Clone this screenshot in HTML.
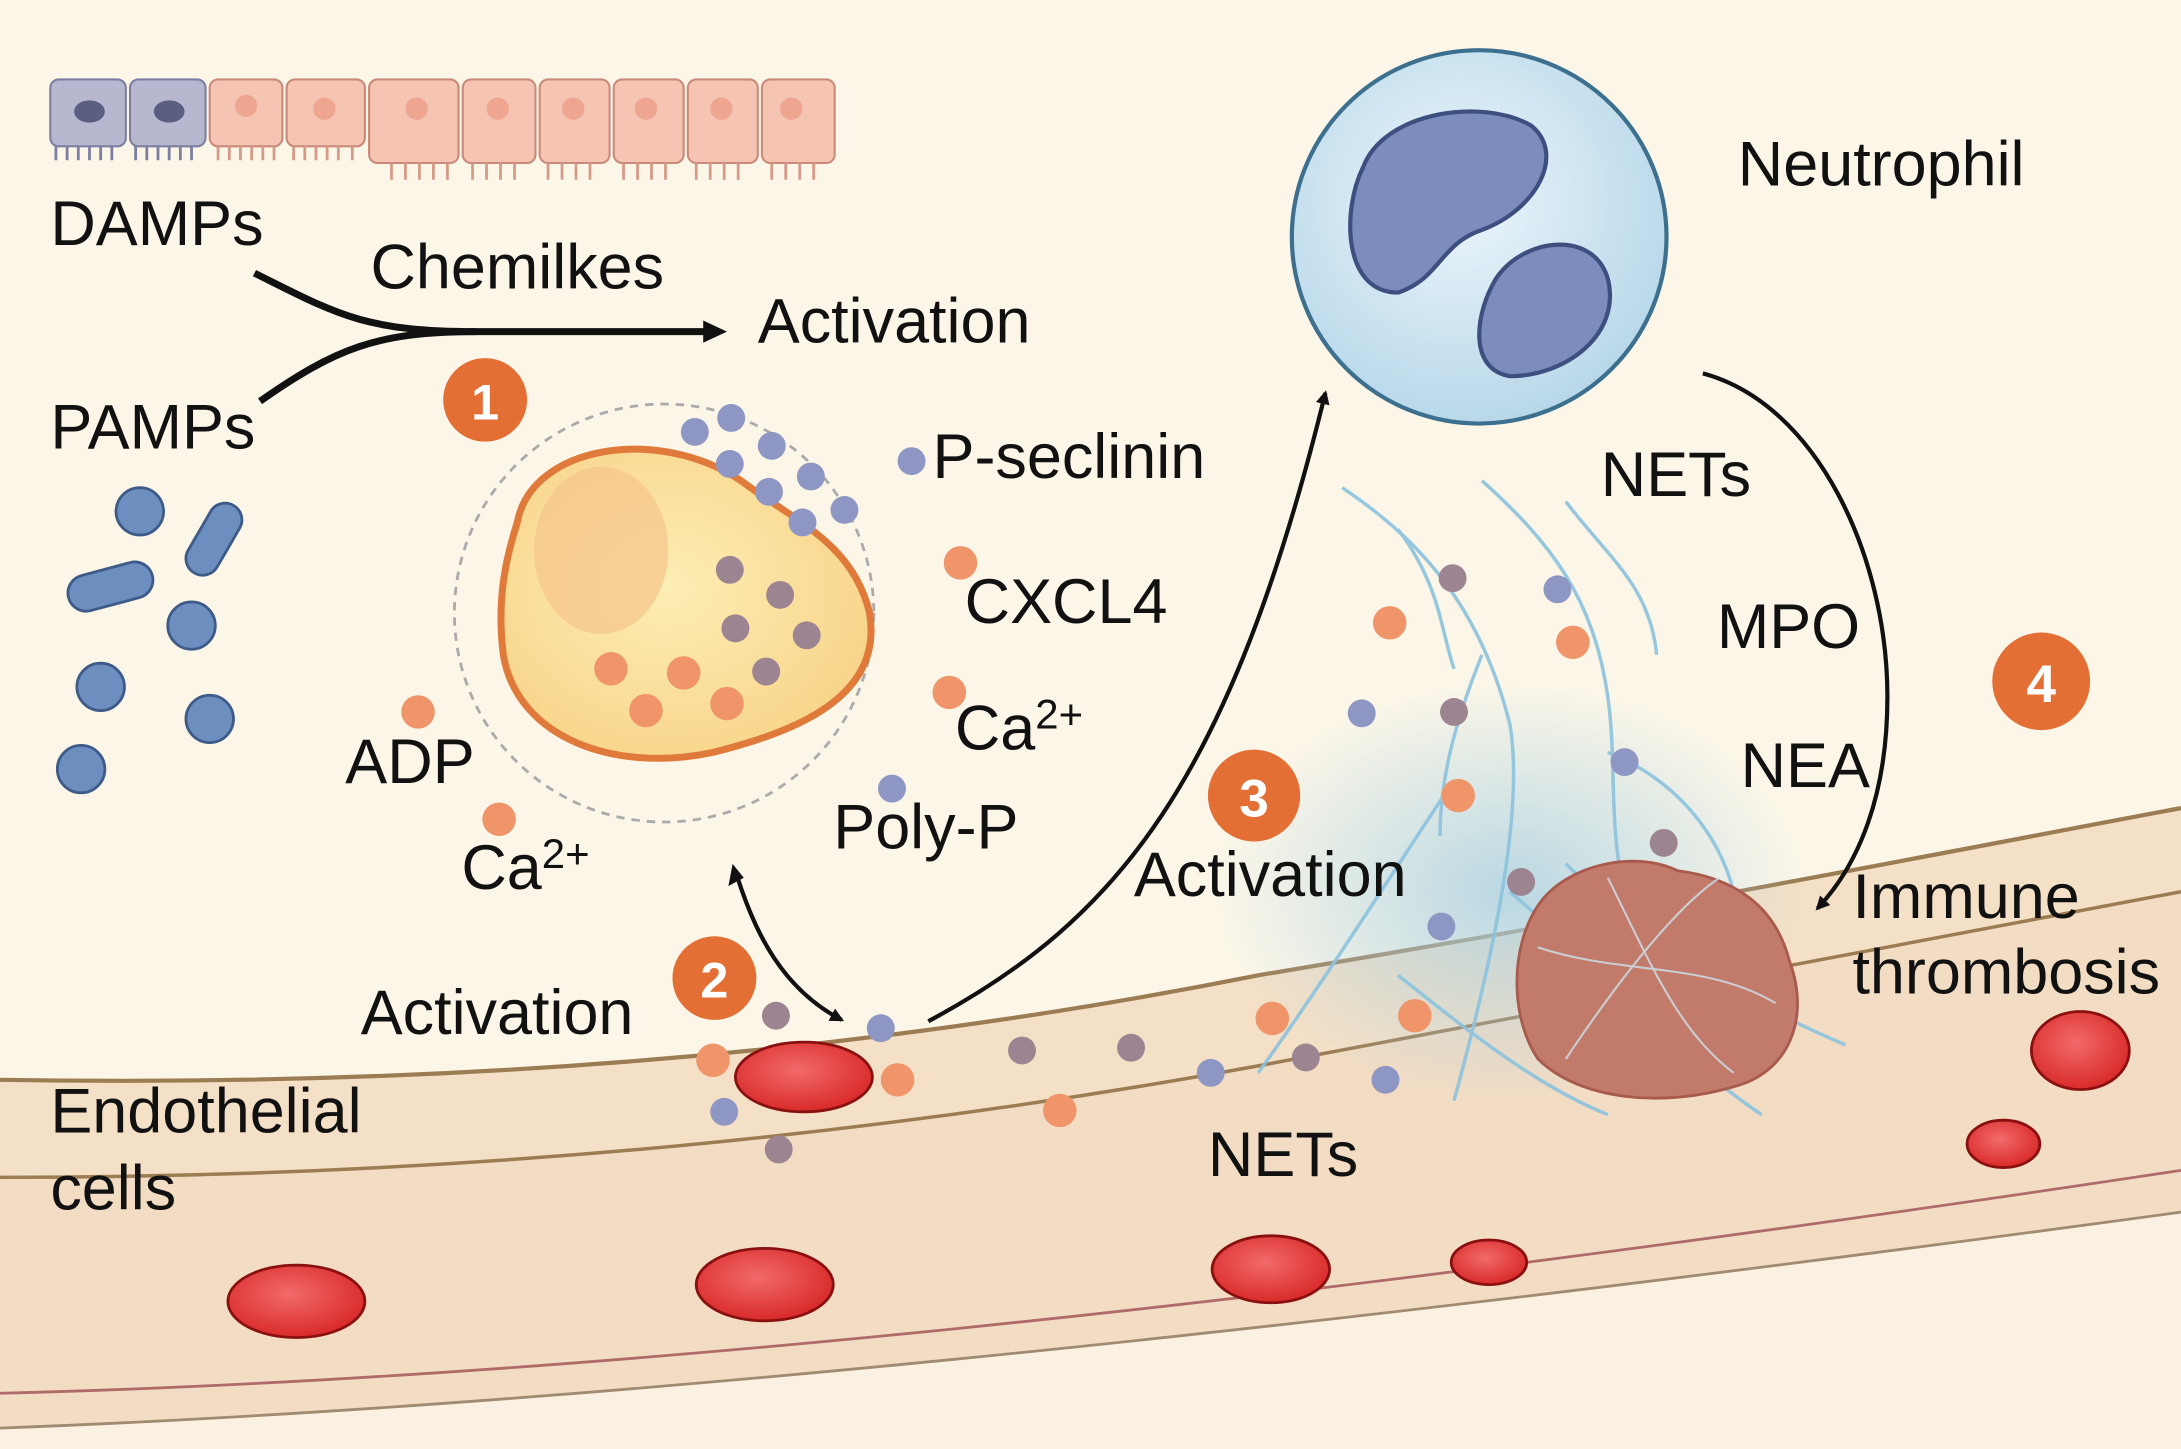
<!DOCTYPE html>
<html><head><meta charset="utf-8"><style>
html,body{margin:0;padding:0;background:#fff}
svg{display:block}
text{font-family:"Liberation Sans",Arial,sans-serif;fill:#111}
</style></head><body>
<svg width="2181" height="1449" viewBox="0 0 1560 1040" preserveAspectRatio="none" xmlns="http://www.w3.org/2000/svg">
<defs>
<radialGradient id="rbc" cx="45%" cy="40%" r="60%"><stop offset="0" stop-color="#f26a6a"/><stop offset="1" stop-color="#d92a2a"/></radialGradient>
<radialGradient id="neu" cx="45%" cy="40%" r="60%"><stop offset="0" stop-color="#eef6fb"/><stop offset="1" stop-color="#b8d8ea"/></radialGradient>
<radialGradient id="haze" cx="50%" cy="50%" r="50%"><stop offset="0" stop-color="#a9d0e2" stop-opacity=".8"/><stop offset="1" stop-color="#a9d0e2" stop-opacity="0"/></radialGradient>
<radialGradient id="plt" cx="45%" cy="45%" r="60%"><stop offset="0" stop-color="#fdeeb5"/><stop offset="1" stop-color="#f8d48a"/></radialGradient>
<marker id="ah" markerWidth="10" markerHeight="10" refX="8" refY="5" orient="auto" markerUnits="userSpaceOnUse"><path d="M0,0 L10,5 L0,10 z" fill="#111"/></marker>
</defs>
<rect width="1560" height="1040" fill="#fbf6e8"/>
<path d="M0,1025 C400,1010 900,960 1560,870 L1560,1040 L0,1040 z" fill="#fbf1e3"/>
<path d="M0,775 C300,780 600,760 900,700 C1200,650 1400,610 1560,580 L1560,870 C900,960 400,1010 0,1025 z" fill="#f2dcc4"/>
<path d="M0,775 C300,780 600,760 900,700 C1200,650 1400,610 1560,580 L1560,640 C1400,670 1200,710 900,765 C600,820 300,845 0,845 z" fill="#f4e0c6"/>
<path d="M0,775 C300,780 600,760 900,700 C1200,650 1400,610 1560,580" fill="none" stroke="#9c7c52" stroke-width="3"/>
<path d="M0,845 C300,845 600,820 900,765 C1200,710 1400,670 1560,640" fill="none" stroke="#9c7c52" stroke-width="2.5"/>
<path d="M0,1000 C400,990 900,940 1560,840" fill="none" stroke="#b06a6a" stroke-width="2"/>
<path d="M0,1025 C400,1010 900,960 1560,870" fill="none" stroke="#a08a70" stroke-width="2"/>
<g stroke="#c98a7a" stroke-width="1.5">
<rect x="36" y="57" width="54" height="48" rx="6" fill="#b7b8d0" stroke="#7c7fa0"/>
<rect x="93" y="57" width="54" height="48" rx="6" fill="#b7b8d0" stroke="#7c7fa0"/>
<rect x="150" y="57" width="52" height="48" rx="6" fill="#f5c4b2"/>
<rect x="205" y="57" width="56" height="48" rx="6" fill="#f5c4b2"/>
<rect x="264" y="57" width="64" height="60" rx="6" fill="#f5c4b2"/>
<rect x="331" y="57" width="52" height="60" rx="6" fill="#f5c4b2"/>
<rect x="386" y="57" width="50" height="60" rx="6" fill="#f5c4b2"/>
<rect x="439" y="57" width="50" height="60" rx="6" fill="#f5c4b2"/>
<rect x="492" y="57" width="50" height="60" rx="6" fill="#f5c4b2"/>
<rect x="545" y="57" width="52" height="60" rx="6" fill="#f5c4b2"/>
</g>
<ellipse cx="64" cy="80" rx="11" ry="8" fill="#5a5e80"/><ellipse cx="121" cy="80" rx="11" ry="8" fill="#5a5e80"/>
<g fill="#eea690"><circle cx="176" cy="76" r="8"/><circle cx="232" cy="78" r="8"/><circle cx="298" cy="78" r="8"/><circle cx="356" cy="78" r="8"/><circle cx="410" cy="78" r="8"/><circle cx="462" cy="78" r="8"/><circle cx="516" cy="78" r="8"/><circle cx="566" cy="78" r="8"/></g>
<path d="M40,105 v10 M48,105 v10 M56,105 v10 M64,105 v10 M72,105 v10 M80,105 v10 M97,105 v10 M105,105 v10 M113,105 v10 M121,105 v10 M129,105 v10 M137,105 v10" stroke="#7c7fa0" stroke-width="2"/>
<path d="M156,105 v10 M164,105 v10 M172,105 v10 M180,105 v10 M188,105 v10 M196,105 v10 M210,105 v10 M218,105 v10 M226,105 v10 M234,105 v10 M242,105 v10 M252,105 v10 M280,117 v12 M290,117 v12 M300,117 v12 M310,117 v12 M320,117 v12 M338,117 v12 M348,117 v12 M358,117 v12 M368,117 v12 M392,117 v12 M402,117 v12 M412,117 v12 M422,117 v12 M446,117 v12 M456,117 v12 M466,117 v12 M476,117 v12 M498,117 v12 M508,117 v12 M518,117 v12 M528,117 v12 M552,117 v12 M562,117 v12 M572,117 v12 M582,117 v12" stroke="#d89a88" stroke-width="2"/>
<g font-size="45">
<text x="36" y="176">DAMPs</text>
<text x="265" y="207">Chemilkes</text>
<text x="542" y="246">Activation</text>
<text x="36" y="322">PAMPs</text>
</g>
<path d="M182,196 C240,225 260,238 340,238" fill="none" stroke="#111" stroke-width="5"/>
<path d="M186,288 C240,250 270,238 340,238 L505,238" fill="none" stroke="#111" stroke-width="5"/>
<path d="M503,230 L520,238 L503,246 z" fill="#111"/>
<g fill="#6d8fbf" stroke="#3d5a88" stroke-width="2">
<rect x="48" y="408" width="62" height="26" rx="13" transform="rotate(-15 79 421)"/>
<rect x="125" y="375" width="56" height="24" rx="12" transform="rotate(-60 153 387)"/>
<circle cx="100" cy="367" r="17"/><circle cx="137" cy="449" r="17"/><circle cx="72" cy="493" r="17"/><circle cx="150" cy="516" r="17"/><circle cx="58" cy="552" r="17"/>
</g>
<circle cx="475" cy="440" r="150" fill="none" stroke="#aaa" stroke-width="2" stroke-dasharray="6,5"/>
<path d="M370,375 C380,320 470,305 530,345 C570,375 610,390 622,440 C632,500 570,525 510,540 C440,555 370,530 360,470 C355,430 362,400 370,375 z" fill="url(#plt)" stroke="#e07a3a" stroke-width="5"/>
<ellipse cx="430" cy="395" rx="48" ry="60" fill="#f5c48a" opacity=".7"/>
<circle cx="347" cy="287" r="30" fill="#e46f34"/><text x="347" y="301" font-size="36" font-weight="bold" text-anchor="middle" style="fill:#fff">1</text>
<g fill="#8e96c4"><circle cx="497" cy="310" r="10"/><circle cx="523" cy="300" r="10"/><circle cx="522" cy="333" r="10"/><circle cx="552" cy="320" r="10"/><circle cx="550" cy="353" r="10"/><circle cx="580" cy="342" r="10"/><circle cx="574" cy="375" r="10"/><circle cx="604" cy="366" r="10"/><circle cx="652" cy="331" r="10"/><circle cx="638" cy="566" r="10"/></g>
<g fill="#9c8490"><circle cx="522" cy="409" r="10"/><circle cx="558" cy="427" r="10"/><circle cx="526" cy="451" r="10"/><circle cx="577" cy="456" r="10"/><circle cx="548" cy="482" r="10"/></g>
<g fill="#f0956a"><circle cx="437" cy="480" r="12"/><circle cx="489" cy="483" r="12"/><circle cx="462" cy="510" r="12"/><circle cx="520" cy="505" r="12"/><circle cx="687" cy="404" r="12"/><circle cx="679" cy="497" r="12"/><circle cx="299" cy="511" r="12"/><circle cx="357" cy="588" r="12"/></g>
<g font-size="45">
<text x="667" y="343">P-seclinin</text>
<text x="690" y="447">CXCL4</text>
<text x="683" y="538">Ca<tspan dy="-15" font-size="30">2+</tspan></text>
<text x="596" y="609">Poly-P</text>
<text x="247" y="562">ADP</text>
<text x="330" y="638">Ca<tspan dy="-15" font-size="30">2+</tspan></text>
</g>
<circle cx="511" cy="702" r="30" fill="#e46f34"/><text x="511" y="716" font-size="36" font-weight="bold" text-anchor="middle" style="fill:#fff">2</text>
<text x="258" y="742" font-size="45">Activation</text>
<path d="M527,628 C540,670 560,710 602,732" fill="none" stroke="#111" stroke-width="3" marker-end="url(#ah)"/>
<path d="M524,620 L521,636 L532,630 z" fill="#111"/>
<path d="M664,733 C800,660 880,560 948,282" fill="none" stroke="#111" stroke-width="3" marker-end="url(#ah)"/>
<ellipse cx="1080" cy="640" rx="210" ry="150" fill="url(#haze)"/>
<g fill="none" stroke="#8cc3de" stroke-width="2.5" opacity=".9">
<path d="M960,350 C1020,390 1060,440 1080,520 C1090,580 1070,680 1040,790"/>
<path d="M1060,345 C1110,390 1140,430 1150,500 C1160,570 1140,640 1200,720"/>
<path d="M1000,380 C1030,420 1030,450 1040,480"/><path d="M1120,360 C1150,400 1180,420 1185,470"/>
<path d="M1040,560 C1000,620 950,700 900,770"/><path d="M1120,620 C1180,680 1250,720 1320,750"/>
<path d="M1080,640 C1150,700 1200,760 1260,800"/><path d="M1000,700 C1050,740 1100,780 1150,800"/>
<path d="M1150,540 C1200,560 1230,600 1240,640"/><path d="M1060,470 C1040,520 1030,560 1030,600"/>
</g>
<path d="M1100,650 C1120,620 1170,610 1200,625 C1240,630 1270,650 1280,690 C1295,730 1280,770 1240,780 C1190,795 1130,790 1100,760 C1080,730 1080,680 1100,650 z" fill="#c27a6a" stroke="#a85a4c" stroke-width="2"/>
<g fill="none" stroke="#cde3ee" stroke-width="1.5" opacity=".8"><path d="M1100,680 C1160,700 1220,690 1270,720"/><path d="M1120,760 C1160,700 1200,650 1230,630"/><path d="M1150,630 C1180,690 1200,740 1240,770"/></g>
<g fill="#9c8490"><circle cx="555" cy="729" r="10"/><circle cx="557" cy="825" r="10"/><circle cx="731" cy="754" r="10"/><circle cx="809" cy="752" r="10"/><circle cx="934" cy="759" r="10"/><circle cx="1039" cy="415" r="10"/><circle cx="1040" cy="511" r="10"/><circle cx="1190" cy="605" r="10"/><circle cx="1088" cy="633" r="10"/></g>
<g fill="#8e96c4"><circle cx="630" cy="738" r="10"/><circle cx="518" cy="798" r="10"/><circle cx="866" cy="770" r="10"/><circle cx="991" cy="775" r="10"/><circle cx="1114" cy="423" r="10"/><circle cx="974" cy="512" r="10"/><circle cx="1162" cy="547" r="10"/><circle cx="1031" cy="665" r="10"/></g>
<g fill="#f0956a"><circle cx="510" cy="761" r="12"/><circle cx="642" cy="775" r="12"/><circle cx="758" cy="797" r="12"/><circle cx="910" cy="731" r="12"/><circle cx="1012" cy="729" r="12"/><circle cx="994" cy="447" r="12"/><circle cx="1125" cy="461" r="12"/><circle cx="1043" cy="571" r="12"/></g>
<g fill="url(#rbc)" stroke="#8a1010" stroke-width="2">
<ellipse cx="575" cy="773" rx="49" ry="25"/><ellipse cx="212" cy="934" rx="49" ry="26"/><ellipse cx="547" cy="922" rx="49" ry="26"/><ellipse cx="909" cy="911" rx="42" ry="24"/><ellipse cx="1065" cy="906" rx="27" ry="16"/><ellipse cx="1488" cy="754" rx="35" ry="28"/><ellipse cx="1433" cy="821" rx="26" ry="17"/>
</g>
<circle cx="1058" cy="170" r="134" fill="url(#neu)" stroke="#3d6f8f" stroke-width="3"/>
<path d="M975,120 C990,80 1060,70 1095,90 C1120,110 1100,150 1060,165 C1030,175 1030,200 1000,210 C960,210 960,150 975,120 z" fill="#7c8cbc" stroke="#3d4f7f" stroke-width="3"/>
<path d="M1070,200 C1090,170 1140,165 1150,200 C1160,240 1120,270 1080,270 C1050,265 1055,225 1070,200 z" fill="#7c8cbc" stroke="#3d4f7f" stroke-width="3"/>
<path d="M1218,268 C1300,290 1350,400 1350,500 C1350,570 1330,620 1300,652" fill="none" stroke="#111" stroke-width="3" marker-end="url(#ah)"/>
<g font-size="45">
<text x="1243" y="133">Neutrophil</text>
<text x="1145" y="356">NETs</text>
<text x="1228" y="465">MPO</text>
<text x="1245" y="565">NEA</text>
<text x="1325" y="659">Immune</text>
<text x="1325" y="713">thrombosis</text>
<text x="811" y="643">Activation</text>
<text x="864" y="844">NETs</text>
<text x="36" y="813">Endothelial</text>
<text x="36" y="868">cells</text>
</g>
<circle cx="1460" cy="489" r="35" fill="#e46f34"/><text x="1460" y="504" font-size="38" font-weight="bold" text-anchor="middle" style="fill:#fff">4</text>
<circle cx="897" cy="571" r="33" fill="#e46f34"/><text x="897" y="586" font-size="38" font-weight="bold" text-anchor="middle" style="fill:#fff">3</text>
</svg>
</body></html>
